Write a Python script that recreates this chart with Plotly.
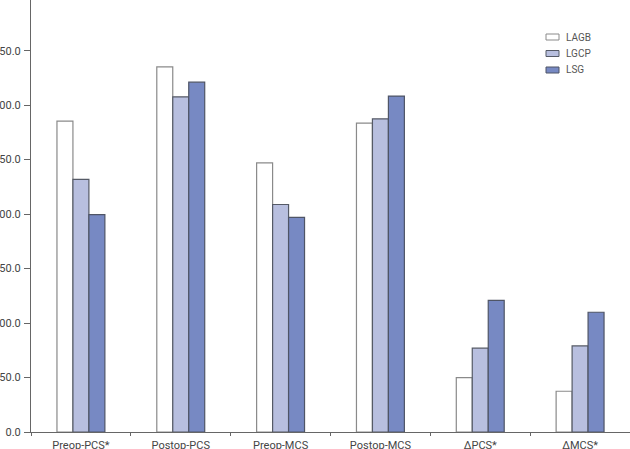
import plotly.graph_objects as go

categories = ["Preop-PCS*", "Postop-PCS", "Preop-MCS", "Postop-MCS", "\u0394PCS*", "\u0394MCS*"]
lagb = [285.3, 335.2, 247.0, 283.5, 49.9, 37.4]
lgcp = [231.8, 307.6, 208.8, 287.4, 76.9, 79.0]
lsg = [199.6, 321.1, 196.9, 308.3, 120.9, 109.9]
y_ticks = [0, 50, 100, 150, 200, 250, 300, 350]
y_tick_labels = ["0.0", "50.0", "100.0", "150.0", "200.0", "250.0", "300.0", "350.0"]

series = [
    ("LAGB", lagb, "#ffffff", "#8a8a8a"),
    ("LGCP", lgcp, "#b8bfdf", "#555a66"),
    ("LSG", lsg, "#7789c3", "#4f5566"),
]

font_family = "Roboto, Arial, sans-serif"
W, H = 630, 449
ML, MR, MT, MB = 31, 0, 0, 17
PW, PH = W - ML - MR, H - MT - MB

def px_x(p):
    return (p - ML) / PW

def px_y(p):
    return 1 - (p - MT) / PH

fig = go.Figure()
for name, vals, fill, line in series:
    fig.add_trace(go.Bar(
        name=name, x=categories, y=vals,
        marker=dict(color=fill, line=dict(color=line, width=1.2)),
        showlegend=False,
    ))

# custom legend (small rectangles + labels)
legend_rows = [37, 53.5, 70]
for (name, _, fill, line), cy in zip(series, legend_rows):
    fig.add_shape(
        type="rect", xref="paper", yref="paper",
        x0=px_x(546), x1=px_x(559), y0=px_y(cy - 3), y1=px_y(cy + 3),
        fillcolor=fill, line=dict(color=line, width=1),
    )
    fig.add_annotation(
        xref="paper", yref="paper", x=px_x(564), y=px_y(cy),
        xanchor="left", yanchor="middle", text=name, showarrow=False,
        font=dict(family=font_family, size=10, color="#555555"),
    )

fig.update_layout(
    width=W, height=H,
    margin=dict(l=ML, r=MR, t=MT, b=MB, autoexpand=False),
    paper_bgcolor="white", plot_bgcolor="white",
    barmode="group", bargap=0.52, bargroupgap=0,
    font=dict(family=font_family, size=11, color="#444444"),
    showlegend=False,
)
fig.update_xaxes(
    showline=True, linecolor="#666666", linewidth=1,
    ticks="outside", ticklen=3, tickcolor="#666666", tickson="boundaries",
    showgrid=False, automargin=False, ticklabelstandoff=3,
    tickfont=dict(family=font_family, size=11, color="#444444"),
)
fig.update_yaxes(
    range=[0, 396.5], showline=True, linecolor="#666666", linewidth=1,
    ticks="outside", ticklen=6, tickcolor="#666666",
    tickvals=y_ticks, ticktext=y_tick_labels, ticklabelstandoff=1,
    showgrid=False, zeroline=False, automargin=False,
    tickfont=dict(family=font_family, size=11, color="#444444"),
)

fig.write_html("out.html")
